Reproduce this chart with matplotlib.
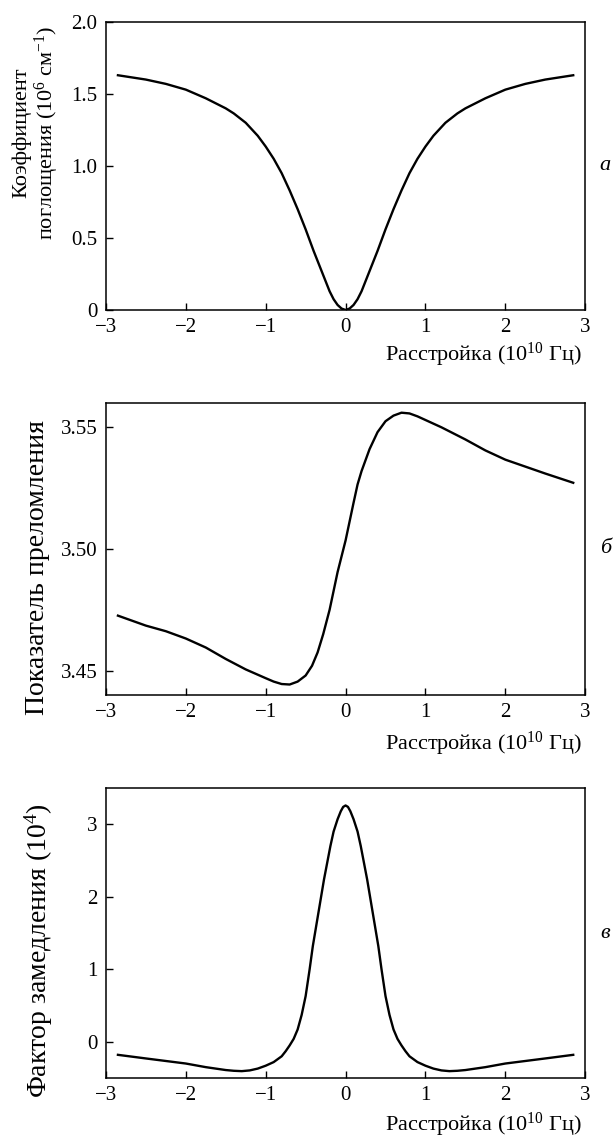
import numpy as np
import matplotlib
matplotlib.use("Agg")
import matplotlib.pyplot as plt

plt.rcParams["font.family"] = ["Liberation Serif", "DejaVu Serif"]
plt.rcParams["mathtext.fontset"] = "custom"
plt.rcParams["mathtext.rm"] = "Liberation Serif"
plt.rcParams["mathtext.it"] = "Liberation Serif:italic"
plt.rcParams["font.size"] = 16

# (a) absorption coefficient, 10^6 cm^-1
x_abs = [-2.85, -2.5, -2.25, -2.0, -1.75, -1.5, -1.4, -1.25, -1.1, -1.0, -0.9, -0.8,
         -0.7, -0.6, -0.5, -0.4, -0.35, -0.3, -0.25, -0.2, -0.15, -0.1, -0.05, 0.0,
         0.05, 0.1, 0.15, 0.2, 0.25, 0.3, 0.35, 0.4, 0.5, 0.6, 0.7, 0.8, 0.9, 1.0,
         1.1, 1.25, 1.4, 1.5, 1.75, 2.0, 2.25, 2.5, 2.85]
y_abs = [1.63, 1.60, 1.57, 1.53, 1.47, 1.40, 1.365, 1.30, 1.21, 1.135, 1.05, 0.95,
         0.83, 0.70, 0.56, 0.41, 0.34, 0.27, 0.20, 0.13, 0.075, 0.035, 0.01, 0.0,
         0.01, 0.035, 0.075, 0.13, 0.20, 0.27, 0.34, 0.41, 0.56, 0.70, 0.83, 0.95, 1.05, 1.135,
         1.21, 1.30, 1.365, 1.40, 1.47, 1.53, 1.57, 1.60, 1.63]

# (б) refractive index
x_n = [-2.85, -2.5, -2.25, -2.0, -1.75, -1.5, -1.25, -1.0, -0.9, -0.8, -0.7, -0.6, -0.5,
       -0.42, -0.35, -0.28, -0.2, -0.1, 0.0, 0.1, 0.15, 0.2, 0.3, 0.4, 0.5,
       0.6, 0.7, 0.8, 0.9, 1.0, 1.2, 1.5, 1.75, 2.0, 2.5, 2.85]
y_n = [3.4726, 3.4685, 3.4662, 3.4632, 3.4595, 3.4548, 3.4505, 3.4469, 3.4455, 3.4445,
       3.4443, 3.4455, 3.4480, 3.4520, 3.4575, 3.4650, 3.4750, 3.4905, 3.5035, 3.5190,
       3.5265, 3.5320, 3.5410, 3.5480, 3.5525, 3.5548, 3.5560, 3.5557, 3.5545, 3.5530,
       3.5500, 3.5450, 3.5405, 3.5367, 3.5310, 3.5272]

# (в) slowdown factor, 10^4
x_s = [-2.85, -2.5, -2.0, -1.75, -1.5, -1.4, -1.3, -1.2, -1.1, -1.0, -0.9, -0.8,
       -0.75, -0.7, -0.65, -0.6, -0.55, -0.5, -0.45, -0.41, -0.34, -0.27, -0.23,
       -0.19, -0.15, -0.1, -0.06, -0.03, 0.0, 0.03, 0.06, 0.1, 0.15, 0.19, 0.23,
       0.27, 0.34, 0.41, 0.45, 0.5, 0.55, 0.6, 0.65, 0.7, 0.75, 0.8, 0.9, 1.0,
       1.1, 1.2, 1.3, 1.4, 1.5, 1.75, 2.0, 2.5, 2.85]
y_s = [-0.18, -0.23, -0.30, -0.35, -0.39, -0.40, -0.405, -0.395, -0.37, -0.33, -0.28, -0.20,
       -0.13, -0.05, 0.04, 0.17, 0.37, 0.63, 1.00, 1.32, 1.78, 2.24, 2.47,
       2.70, 2.90, 3.07, 3.18, 3.24, 3.26, 3.24, 3.18, 3.07, 2.90, 2.70, 2.47,
       2.24, 1.78, 1.32, 1.00, 0.63, 0.37, 0.17, 0.04, -0.05, -0.13, -0.20, -0.28, -0.33,
       -0.37, -0.395, -0.405, -0.40, -0.39, -0.35, -0.30, -0.23, -0.18]

x_ticks = [-3, -2, -1, 0, 1, 2, 3]
x_labels = ["\u22123", "\u22122", "\u22121", "0", "1", "2", "3"]
x_title = "Расстройка (10$^{10}$ Гц)"

fig = plt.figure(figsize=(6.16, 11.38), dpi=100)

panels = [
    dict(rect=[0.172, 0.7276, 0.778, 0.2531], x=x_abs, y=y_abs, ylim=(0, 2.0),
         yticks=[0, 0.5, 1.0, 1.5, 2.0], ylabels=["0", "0.5", "1.0", "1.5", "2.0"],
         ytitle="Коэффициент\nпоглощения (10$^6$ см$^{-1}$)", ysize=16,
         ycoord=(-0.093, 0.615), xcoord=-0.156, letter="а"),
    dict(rect=[0.172, 0.3893, 0.778, 0.2566], x=x_n, y=y_n, ylim=(3.440, 3.560),
         yticks=[3.45, 3.50, 3.55], ylabels=["3.45", "3.50", "3.55"],
         ytitle="Показатель преломления", ysize=20,
         ycoord=(-0.117, 0.438), xcoord=-0.166, letter="б"),
    dict(rect=[0.172, 0.0527, 0.778, 0.2548], x=x_s, y=y_s, ylim=(-0.5, 3.5),
         yticks=[0, 1, 2, 3], ylabels=["0", "1", "2", "3"],
         ytitle="Фактор замедления (10$^4$)", ysize=20,
         ycoord=(-0.106, 0.441), xcoord=-0.160, letter="в"),
]

for p in panels:
    ax = fig.add_axes(p["rect"])
    ax.plot(p["x"], p["y"], color="black", lw=1.7)
    ax.set_xlim(-3, 3)
    ax.set_ylim(*p["ylim"])
    ax.set_xticks(x_ticks)
    ax.set_xticklabels(x_labels)
    ax.set_yticks(p["yticks"])
    ax.set_yticklabels(p["ylabels"])
    ax.tick_params(direction="in", length=5, width=1, pad=6, labelsize=15)
    for s in ax.spines.values():
        s.set_linewidth(1.1)
    ax.set_ylabel(p["ytitle"], fontsize=p["ysize"], linespacing=1.1,
                  multialignment="center")
    ax.yaxis.set_label_coords(*p["ycoord"])
    ax.text(0.994, p["xcoord"], x_title, transform=ax.transAxes,
            ha="right", va="center", fontsize=16)
    ax.text(1.042, 0.5, p["letter"], transform=ax.transAxes, ha="center",
            va="center", fontsize=16, style="italic")

fig.savefig("out.png", dpi=100)
